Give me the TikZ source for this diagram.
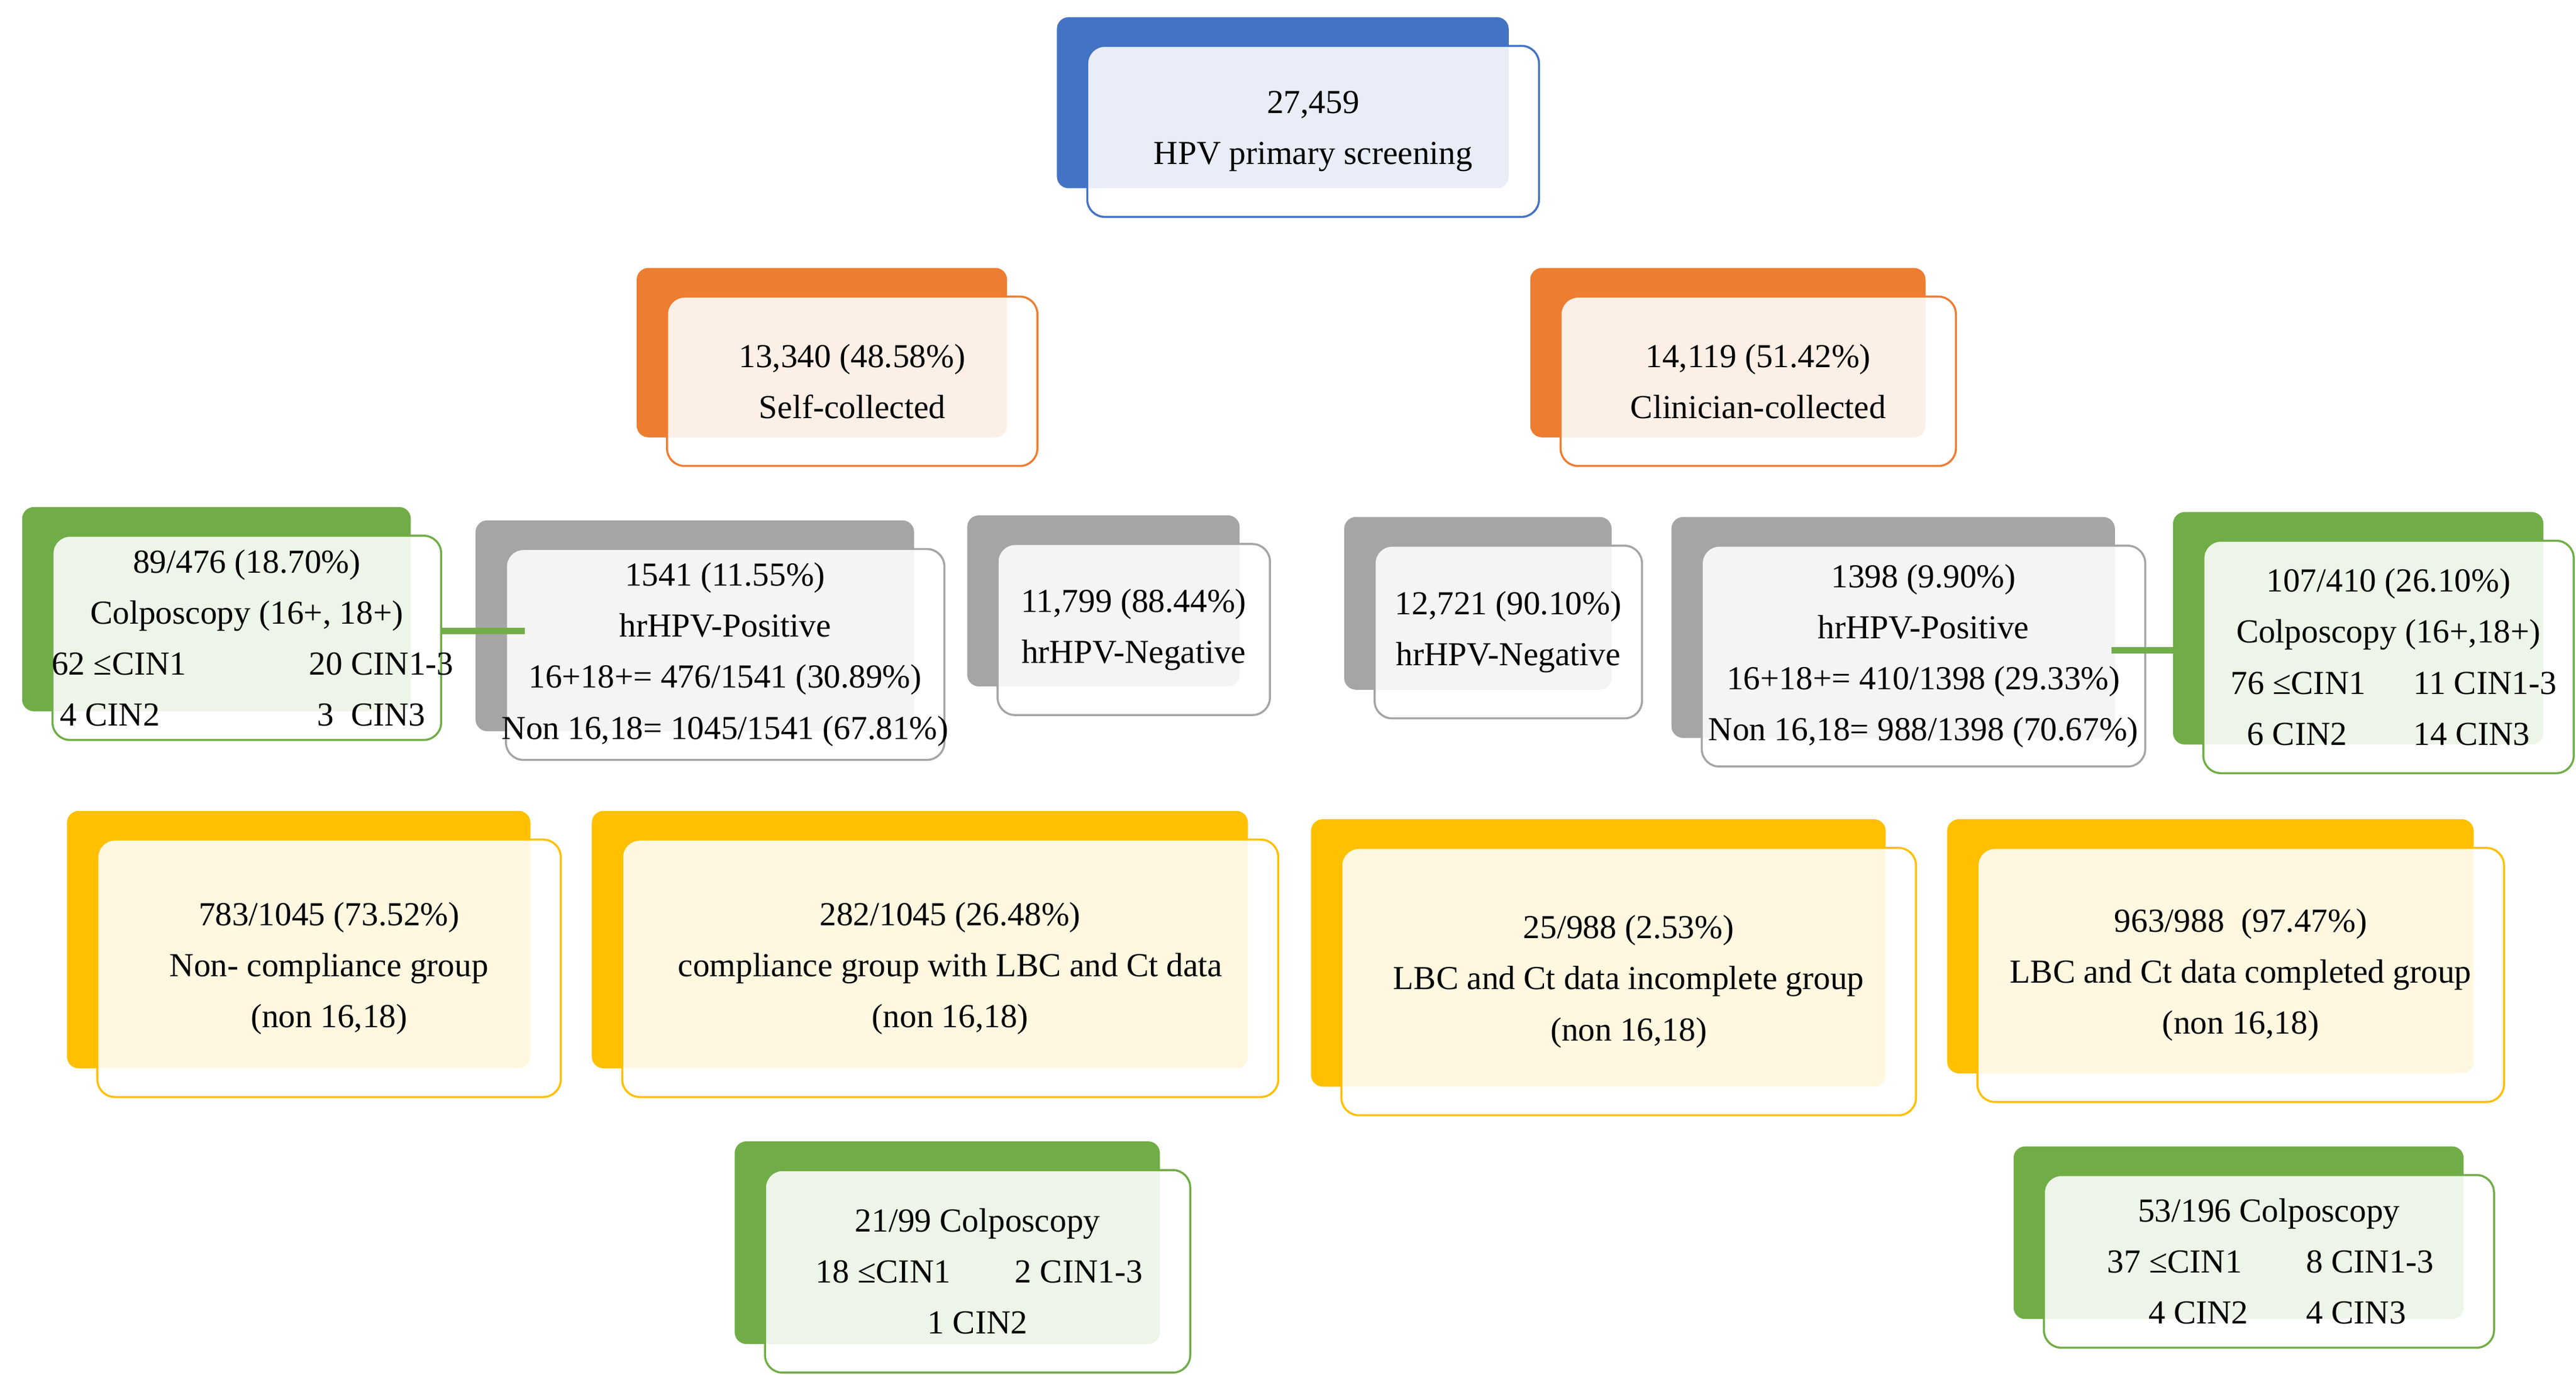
\documentclass[tikz,border=0pt]{standalone}
\usepackage{fontspec}
\setmainfont{Liberation Serif}
\usetikzlibrary{backgrounds}
\definecolor{cblue}{HTML}{4472C4}
\definecolor{corange}{HTML}{ED7D31}
\definecolor{cgrey}{HTML}{A5A5A5}
\definecolor{cgreen}{HTML}{70AD47}
\definecolor{cyellow}{HTML}{FFC000}
\tikzset{
 backbox/.style={rounded corners=4pt, inner sep=0pt},
 frontbox/.style={rounded corners=6pt, fill=white, fill opacity=0.88, inner sep=0pt, line width=0.7pt},
 txt/.style={align=center, font=\fontsize{11.5}{17.5}\selectfont, inner sep=0pt},
 conn/.style={line width=0.8pt},
 gconn/.style={cgreen, line width=2.2pt}
}
\newcommand\pbox[7]{%
 \pgfmathsetmacro\ww{(#5-#3)*0.02}%
 \pgfmathsetmacro\hh{(#6-#4)*0.02}%
 \node[backbox, fill=#2, minimum width=\ww cm, minimum height=\hh cm, anchor=north west] at (#3-18,#4-17) {};
 \node[frontbox, draw=#2, minimum width=\ww cm, minimum height=\hh cm, anchor=north west] (#1) at (#3,#4) {};
 \node[txt] at (#1.center) {#7};
}
\begin{document}
\begin{tikzpicture}[x=0.02cm, y=-0.02cm]
\useasboundingbox (0,0) rectangle (1551,828);
\fill[white] (0,0) rectangle (1551,828);

\pbox{top}{cblue}{654}{27}{926}{130}{27,459\\HPV primary screening}
\pbox{self}{corange}{401}{178}{624}{280}{13,340 (48.58\%)\\Self-collected}
\pbox{clin}{corange}{939}{178}{1177}{280}{14,119 (51.42\%)\\Clinician-collected}

\pbox{posL}{cgrey}{304}{330}{568}{457}{1541 (11.55\%)\\hrHPV-Positive\\16+18+= 476/1541 (30.89\%)\\Non 16,18= 1045/1541 (67.81\%)}
\pbox{negL}{cgrey}{600}{327}{764}{430}{11,799 (88.44\%)\\hrHPV-Negative}
\pbox{negR}{cgrey}{827}{328}{988}{432}{12,721 (90.10\%)\\hrHPV-Negative}
\pbox{posR}{cgrey}{1024}{328}{1291}{461}{1398 (9.90\%)\\hrHPV-Positive\\16+18+= 410/1398 (29.33\%)\\Non 16,18= 988/1398 (70.67\%)}

\pbox{colL}{cgreen}{31}{322}{265}{445}{89/476 (18.70\%)\\Colposcopy (16+, 18+)\\\makebox[3.1cm][l]{62 ≤CIN1}\makebox[1.6cm][l]{20 CIN1-3}\\\makebox[3.1cm][l]{\hspace{0.1cm}4 CIN2}\makebox[1.6cm][l]{\hspace{0.1cm}3\ \ CIN3}}
\pbox{colR}{cgreen}{1326}{325}{1549}{465}{107/410 (26.10\%)\\Colposcopy (16+,18+)\\\makebox[2.2cm][l]{76 ≤CIN1}\makebox[1.6cm][l]{11 CIN1-3}\\\makebox[2.2cm][l]{\hspace{0.2cm}6 CIN2}\makebox[1.6cm][l]{14 CIN3}}

\pbox{y1}{cyellow}{58}{505}{337}{660}{783/1045 (73.52\%)\\Non- compliance group\\(non 16,18)}
\pbox{y2}{cyellow}{374}{505}{769}{660}{282/1045 (26.48\%)\\compliance group with LBC and Ct data\\(non 16,18)}
\pbox{y3}{cyellow}{807}{510}{1153}{671}{25/988 (2.53\%)\\LBC and Ct data incomplete group\\(non 16,18)}
\pbox{y4}{cyellow}{1190}{510}{1507}{663}{963/988\ \ (97.47\%)\\LBC and Ct data completed group\\(non 16,18)}

\pbox{gL}{cgreen}{460}{704}{716}{826}{21/99 Colposcopy\\\makebox[2.4cm][l]{18 ≤CIN1}\makebox[1.5cm][l]{2 CIN1-3}\\1 CIN2}
\pbox{gR}{cgreen}{1230}{707}{1501}{811}{53/196 Colposcopy\\\makebox[2.4cm][l]{37 ≤CIN1}\makebox[1.5cm][l]{8 CIN1-3}\\\makebox[2.4cm][l]{\hspace{0.5cm}4 CIN2}\makebox[1.5cm][l]{4 CIN3}}

\begin{pgfonlayer}{background}
\draw[conn, corange] ([xshift=-0.38cm]top.south) -- ++(0,13) -| ([xshift=-0.32cm]self.north);
\draw[conn, corange] ([xshift=-0.38cm]top.south) -- ++(0,13) -| ([xshift=-0.36cm]clin.north);
\draw[conn, cgrey] ([xshift=-0.32cm]self.south) -- ++(0,16) -| ([xshift=-0.36cm]posL.north);
\draw[conn, cgrey] ([xshift=-0.32cm]self.south) -- ++(0,16) -| ([xshift=-0.38cm]negL.north);
\draw[conn, cgrey] ([xshift=-0.36cm]clin.south) -- ++(0,16) -| ([xshift=-0.36cm]negR.north);
\draw[conn, cgrey] ([xshift=-0.36cm]clin.south) -- ++(0,16) -| ([xshift=-0.36cm]posR.north);
\draw[conn, cyellow] ([xshift=-0.36cm]posL.south) -- ++(0,15) -| ([xshift=-0.36cm]y1.north);
\draw[conn, cyellow] ([xshift=-0.36cm]posL.south) -- ++(0,15) -| ([xshift=-0.36cm]y2.north);
\draw[conn, cyellow] ([xshift=-0.36cm]posR.south) -- ++(0,16) -| ([xshift=-0.36cm]y3.north);
\draw[conn, cyellow] ([xshift=-0.36cm]posR.south) -- ++(0,16) -| ([xshift=-0.36cm]y4.north);
\draw[conn, cgreen] ([xshift=-0.36cm]y2.south) -- ++(0,13) -| ([xshift=-0.38cm]gL.north);
\draw[conn, cgreen] ([xshift=-0.36cm]y4.south) -- ++(0,13) -| ([xshift=-0.38cm]gR.north);
\end{pgfonlayer}
\draw[gconn] ([yshift=0.08cm]colL.east) -- ([xshift=0.24cm,yshift=0.08cm]colL.east -| posL.west);
\draw[gconn] ([yshift=0.08cm]colR.west) -- ([xshift=-0.42cm,yshift=0.08cm]colR.west -| posR.east);
\end{tikzpicture}
\end{document}
